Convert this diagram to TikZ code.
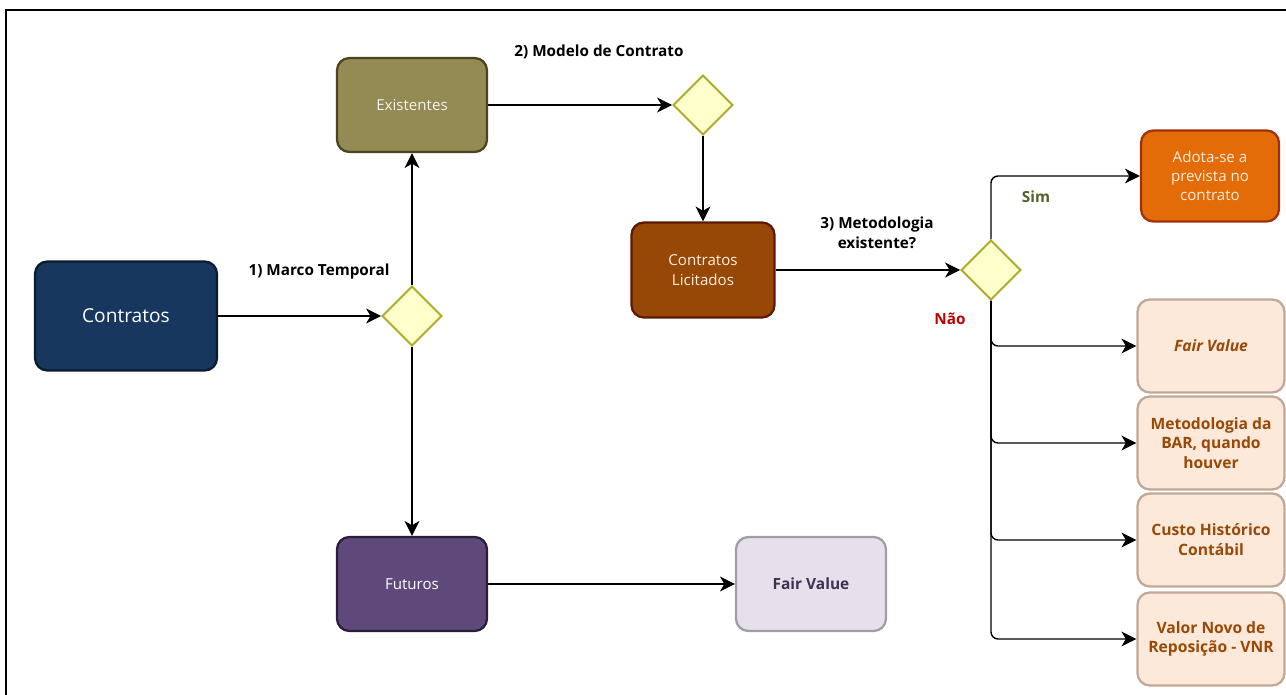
\documentclass[tikz,border=0pt]{standalone}
\usepackage{fontspec}
\setmainfont{Open Sans}
\usetikzlibrary{arrows.meta, shapes.geometric}
\tikzset{>={Stealth[length=8.5pt, width=8.5pt, inset=2.5pt]}}

\definecolor{navy}{HTML}{17375E}
\definecolor{navyline}{HTML}{0C1C30}
\definecolor{olive}{HTML}{948A54}
\definecolor{oliveline}{HTML}{4A4520}
\definecolor{purp}{HTML}{5F497A}
\definecolor{purpline}{HTML}{2A1E38}
\definecolor{rust}{HTML}{974806}
\definecolor{rustline}{HTML}{5C1A06}
\definecolor{orng}{HTML}{E36C09}
\definecolor{orngline}{HTML}{A0300B}
\definecolor{lav}{HTML}{E5E0EC}
\definecolor{lavline}{HTML}{A09CA8}
\definecolor{lavtext}{HTML}{3F3151}
\definecolor{peach}{HTML}{FDE9D9}
\definecolor{peachline}{HTML}{C0A896}
\definecolor{peachtext}{HTML}{984807}
\definecolor{qfill}{HTML}{FFFFCC}
\definecolor{qline}{HTML}{ACAC2C}
\definecolor{simgreen}{HTML}{4F6228}
\definecolor{naored}{HTML}{C00000}

\tikzset{
  proc/.style = {draw, rectangle, rounded corners=7pt, line width=1.3pt, align=center,
                 minimum width=3cm, minimum height=1.88cm, font=\fontsize{8.6}{11}\selectfont},
  opt/.style = {proc, fill=peach, draw=peachline, text=peachtext, minimum width=2.94cm,
                minimum height=1.86cm, font=\fontsize{8.9}{11.3}\selectfont\bfseries},
  decision/.style = {diamond, draw=qline, fill=qfill, line width=1.1pt, minimum width=1.2cm,
                     minimum height=1.2cm, inner sep=0pt},
  lbl/.style = {align=center, font=\fontsize{8.7}{11.3}\selectfont\bfseries},
  flow/.style = {->, line width=0.8pt}
}

\begin{document}
\begin{tikzpicture}[x=0.02cm, y=-0.02cm]
	\useasboundingbox (0,0) rectangle (1286,695);
	\draw [line width=1.2pt] (6,695) -- (6,10) -- (1286,10);

	% left part
	\node [proc, fill=navy, draw=navyline, text=white, minimum width=3.64cm, minimum height=2.18cm,
	       font=\fontsize{10.9}{13}\selectfont] (contratos) at (126,316) {Contratos};
	\node [decision] (marco) at (412,316) {};
	\node [proc, fill=olive, draw=oliveline, text=white!90!olive] (exist) at (412,105) {Existentes};
	\node [proc, fill=purp, draw=purpline, text=white] (futuros) at (412,584) {Futuros};
	\node [proc, fill=lav, draw=lavline, text=lavtext, font=\fontsize{8.8}{11}\selectfont\bfseries] (fvalue) at (811,584) {Fair Value};

	% middle part
	\node [decision] (modelo) at (703,105) {};
	\node [proc, fill=rust, draw=rustline, text=white!88!orange, minimum width=2.86cm, minimum height=1.9cm] (licit) at (703,270) {Contratos\\Licitados};
	\node [decision] (metod) at (991,270) {};

	% right part
	\node [proc, fill=orng, draw=orngline, text=white!85!orange, minimum width=2.76cm, minimum height=1.82cm] (adota) at (1210,176) {Adota-se a\\prevista no\\contrato};
	\node [opt] (optfv) at (1211,346) {\itshape Fair Value};
	\node [opt] (optbar) at (1211,443) {Metodologia da\\BAR, quando\\houver};
	\node [opt] (optcusto) at (1211,540) {Custo Histórico\\Contábil};
	\node [opt] (optvnr) at (1211,639) {Valor Novo de\\Reposição - VNR};

	% labels
	\node [lbl] (lmarco) at (319,272) {1) Marco Temporal};
	\node [lbl] (lmodelo) at (599,52) {2) Modelo de Contrato};
	\node [lbl] (lmetod) at (877,233) {3) Metodologia\\existente?};
	\node [lbl, text=simgreen] (lsim) at (1036,197) {Sim};
	\node [lbl, text=naored] (lnao) at (950,319) {Não};

	% connectors
	\draw [flow] (contratos) -- (marco);
	\draw [flow] (marco) -- (exist);
	\draw [flow] (marco) -- (futuros);
	\draw [flow] (futuros) -- (fvalue);
	\draw [flow] (exist) -- (modelo);
	\draw [flow] (modelo) -- (licit);
	\draw [flow] (licit) -- (metod);
	\draw [flow, rounded corners=4pt] (metod.north) |- (adota.west);
	\foreach \n in {optfv, optbar, optcusto, optvnr}
	\draw [flow, rounded corners=4pt] (metod.south) |- (\n.west);
\end{tikzpicture}
\end{document}
